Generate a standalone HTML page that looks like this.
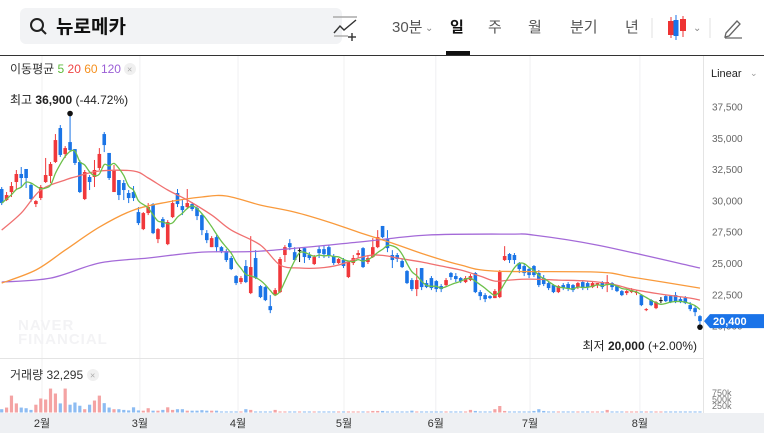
<!DOCTYPE html>
<html><head><meta charset="utf-8">
<style>
html,body{margin:0;padding:0;background:#fff;}
body{width:764px;height:433px;overflow:hidden;position:relative;font-family:"Liberation Sans","Noto Sans CJK KR",sans-serif;}
svg text{font-family:"Liberation Sans","Noto Sans CJK KR",sans-serif;}
</style></head>
<body>
<svg id="chart" width="764" height="433" viewBox="0 0 764 433" xmlns="http://www.w3.org/2000/svg">
  <g>
    <rect x="20" y="8" width="322" height="36" rx="6" fill="#f2f3f5"/>
    <g stroke="#222" stroke-width="2" fill="none">
      <circle cx="37" cy="25" r="6"/><line x1="41.5" y1="29.5" x2="46" y2="34"/>
    </g>
    <text x="56" y="33" font-size="19" font-weight="bold" fill="#111">뉴로메카</text>
    <g stroke="#333" stroke-width="1.4" fill="none">
      <line x1="333" y1="17" x2="357" y2="17" stroke="#aaa"/>
      <polyline points="334,33 340,26 344,30 356,20"/>
      <line x1="334" y1="36" x2="348" y2="36" stroke="#aaa"/>
      <line x1="352" y1="33" x2="352" y2="41"/><line x1="348" y1="37" x2="356" y2="37"/>
    </g>
    <text x="392" y="32" font-size="15" fill="#555">30분</text>
    <text x="425" y="31" font-size="10" fill="#888">⌄</text>
    <text x="450" y="32" font-size="15" font-weight="bold" fill="#111">일</text>
    <rect x="446" y="51" width="24" height="4" fill="#111"/>
    <text x="488" y="32" font-size="15" fill="#555">주</text>
    <text x="528" y="32" font-size="15" fill="#555">월</text>
    <text x="570" y="32" font-size="15" fill="#555">분기</text>
    <text x="625" y="32" font-size="15" fill="#555">년</text>
    <line x1="652" y1="18" x2="652" y2="38" stroke="#e2e2e2"/>
    <g>
      <line x1="671" y1="17" x2="671" y2="38" stroke="#e33" /><rect x="668" y="21" width="6" height="14" fill="#e33"/>
      <line x1="676" y1="15" x2="676" y2="40" stroke="#1a73e8"/><rect x="673.5" y="20" width="5" height="16" fill="#1a73e8"/>
      <line x1="683" y1="16" x2="683" y2="37" stroke="#e33"/><rect x="680" y="19" width="6" height="12" fill="#e33"/>
      <text x="693" y="31" font-size="10" fill="#888">⌄</text>
    </g>
    <line x1="710" y1="18" x2="710" y2="38" stroke="#e2e2e2"/>
    <g stroke="#666" stroke-width="1.3" fill="none">
      <path d="M726 33 L737 21 L740 24 L729 36 L725 37 Z"/><line x1="725" y1="38" x2="742" y2="38"/>
    </g>
    <line x1="0" y1="55.5" x2="764" y2="55.5" stroke="#333" stroke-width="1"/>
  </g>
  <g id="grid"></g>
  <line x1="703.5" y1="56" x2="703.5" y2="413" stroke="#e4e4e4"/>
  <line x1="0" y1="358.5" x2="703" y2="358.5" stroke="#e4e4e4"/>
  <text x="18" y="330" font-size="15" font-weight="bold" fill="#f3f3f5" letter-spacing="1">NAVER</text>
  <text x="18" y="344" font-size="15" font-weight="bold" fill="#f3f3f5" letter-spacing="1">FINANCIAL</text>
  <g id="volume"></g>
  <g id="candles"></g>
  <g id="mas"></g>
  <g id="yaxis"></g>
  <g>
    <text x="10" y="73" font-size="12" fill="#333">이동평균 <tspan fill="#5dbb3c">5</tspan> <tspan fill="#ee4545">20</tspan> <tspan fill="#f5901e">60</tspan> <tspan fill="#9b5fd6">120</tspan></text>
    <circle cx="130" cy="69" r="6" fill="#f0f0f0"/>
    <text x="127" y="72.5" font-size="9" fill="#aaa">×</text>
  </g>
  <text x="711" y="77" font-size="11" fill="#222">Linear</text>
  <text x="750" y="76" font-size="9" fill="#999">⌄</text>
  <text x="10" y="104" font-size="12" fill="#222">최고 <tspan font-weight="bold">36,900</tspan> (-44.72%)</text>
  <text x="697" y="350" font-size="12" fill="#222" text-anchor="end">최저 <tspan font-weight="bold">20,000</tspan> (+2.00%)</text>
  <g>
    <text x="10" y="379" font-size="12" fill="#333">거래량 32,295</text>
    <circle cx="93" cy="375" r="6" fill="#f0f0f0"/>
    <text x="90" y="378.5" font-size="9" fill="#aaa">×</text>
  </g>
  <rect x="0" y="413" width="764" height="20" fill="#eef0f3"/>
  <g id="xaxis"></g>
  <g id="vaxis"></g>
  <g id="ptag"></g>
</svg>
<script>
const opens=[30950,30070,30710,31510,32150,32550,31270,29750,30230,31510,31990,33110,35820,33750,34700,34140,33110,30150,31910,31910,32630,35340,33830,30710,31670,31430,30630,30710,29110,27750,29030,29750,26950,28550,26550,28710,30630,29590,29510,29750,29430,28870,27430,26310,27110,26310,25990,25440,24000,23520,24800,22640,25440,23200,23120,21600,22480,22720,25680,26630,25910,26070,26230,25680,24960,26150,26150,26310,25600,25040,25280,23920,25040,25680,26230,25120,25520,26310,28000,26950,25680,25680,25200,24400,23680,22960,24640,23440,23840,23600,23200,23280,24240,24000,23840,23520,23680,24240,22720,22480,22400,22240,22320,25280,25760,25680,25040,24800,24560,24800,24240,23840,23440,23280,22720,23280,23360,23280,23120,23520,23440,23120,23280,23520,23280,23440,23200,22800,22640,22720,22640,22480,21280,22080,21440,22080,22400,22400,22480,22160,22240,21680,21440,20800];
const highs=[31110,30710,31510,32470,32710,32550,31430,30070,31270,33430,33110,35340,36060,34380,36900,34140,33270,32470,32070,33270,34220,35500,33830,32870,31670,31670,30870,31190,29510,29110,29830,29830,27830,28710,28470,30070,30950,30070,30950,29910,29590,29030,27670,27190,27270,26390,26150,25600,24080,24000,25280,27190,26070,23280,23200,22480,23040,25520,26470,26950,26310,26230,26310,25910,25680,26390,26470,26470,25760,25440,25440,25200,25680,26070,26310,25680,27030,27670,28000,27670,26070,25840,25360,24480,23840,24640,24640,23680,24000,23680,23360,23840,24320,24240,23920,24000,24160,24320,22880,22640,22480,22960,24480,26390,25840,25840,25120,24960,24720,24880,24480,24080,23600,23360,23280,23440,23520,23360,23520,23680,23600,23600,23440,23600,24080,23520,23280,22880,22880,23040,22880,22480,21440,22160,22000,22320,22480,22480,22720,22320,22400,21920,21600,20880];
const lows=[29670,29990,30310,30870,31110,31030,29910,29510,30070,31430,31430,33030,33510,33430,33980,32870,30630,30070,30870,31110,32470,33900,31670,30710,30070,30070,29830,29990,28070,27670,28870,27350,26630,27830,26470,28630,29510,28870,29350,29190,28470,27270,26630,26310,25910,25830,25120,24480,23280,23360,23440,22560,23760,22240,22000,21040,22400,22640,25120,26070,25280,25120,25040,25280,24880,25440,25440,25440,24880,24960,24640,23840,24880,25440,24640,24960,25440,26230,27030,25910,24640,25120,24640,23360,22800,22400,22880,23040,22880,22720,22720,23120,23680,23520,23440,23440,23600,22640,22080,21920,22160,22240,22240,25200,25040,24960,24240,24000,23840,23920,23120,23200,22880,22640,22640,22880,22800,22720,22960,22880,22880,23040,23040,22960,22720,22880,22720,22400,22480,22640,22480,21600,21200,21600,21360,21840,21920,21840,21840,21840,21760,21200,20800,20000];
const closes=[29830,30470,31190,32150,31830,31830,30150,29990,31110,32070,32950,34860,33670,34220,34060,33030,30710,32310,31510,32470,33750,34460,31830,32470,30470,30870,30230,30230,28230,29030,29510,27430,27750,27910,28310,29830,29750,29270,29830,29350,28790,27670,26870,27030,26310,25990,25280,24560,23440,23840,23520,24720,23840,22320,22080,21280,22880,25360,26310,26310,25280,26070,25520,25440,25520,25830,25750,25680,25040,25360,24800,25120,25440,25840,24720,25440,26310,27110,27110,26230,25280,25360,24720,23440,22960,23680,23120,23120,23040,22960,22960,23680,23920,23760,23600,23840,24000,22720,22400,22160,22240,22800,24320,25600,25280,25280,24560,24240,24080,24080,23280,23360,23040,22720,23200,23040,23040,22880,23440,23040,23120,23440,23440,23120,23520,23120,22800,22480,22800,22880,22720,21680,21360,21680,21920,22080,22000,21920,21920,21920,21840,21360,21120,20400];
const volumes=[127,190,650,350,190,165,100,300,540,500,920,730,350,920,300,385,260,127,300,460,650,360,190,127,127,100,80,200,80,70,165,70,70,100,200,100,127,127,70,70,70,90,70,70,70,40,40,40,40,40,127,100,40,40,40,40,100,40,40,40,40,40,40,40,40,40,40,40,40,40,40,40,40,40,40,40,60,60,60,40,40,40,40,40,70,40,40,40,40,40,40,40,40,40,40,40,100,60,40,40,40,127,250,60,40,40,40,40,40,60,127,60,40,40,40,40,40,40,40,40,40,40,40,40,100,40,40,40,40,40,40,40,40,40,40,40,40,40,40,40,40,40,40,40];
const ma20Idx=[0,4,8,13,15,20,27,30,34,38,43,47,53,57,61,65,69,73,76,79,81,86,90,94,98,101,104,108,114,120,125,129,135,141,143];
const ma20Val=[27670,29030,30870,31670,31910,32390,32390,31830,30870,30070,28870,27670,26470,24880,24640,24640,24880,25440,25680,25600,25440,25120,24800,24480,24000,23600,23680,23760,23680,23600,23360,22960,22560,22240,22080];
const ma60Idx=[0,7,13,20,27,34,41,46,53,60,67,73,80,87,94,101,122,129,143];
const ma60Val=[23440,24480,26070,27910,29270,29910,30310,30390,29670,29110,28310,27510,26630,25680,24880,24400,24320,23920,23040];
const ma120Idx=[0,10,20,30,41,53,73,87,104,109,122,143];
const ma120Val=[23520,23840,25040,25440,25910,25990,26710,27270,27350,27270,26470,24640];
const priceTicks=[37500,35000,32500,30000,27500,25000,22500,20000];
const priceTickLabels=["37,500","35,000","32,500","30,000","27,500","25,000","22,500","20,000"];
const monthPos=[8.25,28.3,48.4,70.1,88.9,108.2,130.7];
const monthLabels=["2월","3월","4월","5월","6월","7월","8월"];
const volTicks=[750,500,250];
const volTickLabels=["750k","500k","250k"];
const currentPrice=20400;
const currentPriceLabel="20,400";

const NS="http://www.w3.org/2000/svg";
function yP(p){return 107+(37500-p)*0.012523;}
function xI(i){return 1.7+i*4.883;}
function yV(v){return 412.5-v*0.026;}
function mk(tag,attrs,parent){const e=document.createElementNS(NS,tag);for(const k in attrs)e.setAttribute(k,attrs[k]);parent.appendChild(e);return e;}
const RED="#f0383b",BLUE="#1a74e6";

const grid=document.getElementById('grid');
monthPos.forEach((m,k)=>{
  const l=mk('line',{x1:xI(m),x2:xI(m),y1:56,y2:413,stroke:'#f0f0f2'},grid);
  
  
});
const xaxis=document.getElementById('xaxis');
monthLabels.forEach((t,k)=>{
  const e=mk('text',{x:xI(monthPos[k]),y:427,'font-size':11,fill:'#333','text-anchor':'middle'},xaxis);
  e.textContent=t;
  
  
});
const yaxis=document.getElementById('yaxis');
priceTicks.forEach((p,k)=>{
  const e=mk('text',{x:712,y:yP(p)+3.5,'font-size':10,fill:'#666'},yaxis);
  e.textContent=priceTickLabels[k];
  
  
});
const vaxis=document.getElementById('vaxis');
volTicks.forEach((v,k)=>{
  const e=mk('text',{x:712,y:yV(v)+3,'font-size':9,fill:'#777'},vaxis);
  e.textContent=volTickLabels[k];
  
  
});
const vol=document.getElementById('volume');
volumes.forEach((v,i)=>{
  const up=closes[i]>=opens[i];
  const r=mk('rect',{x:xI(i)-1.6,y:yV(v),width:3.2,height:412.5-yV(v),fill:up?'#f4a3a3':'#8dbcf2'},vol);
  
  
});
const cg=document.getElementById('candles');
closes.forEach((c,i)=>{
  const o=opens[i],up=c>o,doji=c===o;
  const col=doji?'#111':(up?RED:BLUE);
  const g=mk('g',{},cg);
  
  
  const x=xI(i);
  mk('line',{x1:x,x2:x,y1:yP(highs[i]),y2:yP(lows[i]),stroke:col,'stroke-width':1},g);
  const top=yP(Math.max(o,c)),bot=yP(Math.min(o,c));
  mk('rect',{x:x-1.8,y:top,width:3.6,height:Math.max(1,bot-top),fill:col},g);
});
const mg=document.getElementById('mas');
function drawLine(idx,val,color,name){
  const P=idx.map((ix,k)=>[xI(ix),yP(val[k])]);
  let d='M'+P[0][0].toFixed(1)+','+P[0][1].toFixed(1);
  for(let k=0;k<P.length-1;k++){
    const p0=P[Math.max(0,k-1)],p1=P[k],p2=P[k+1],p3=P[Math.min(P.length-1,k+2)];
    const c1=[p1[0]+(p2[0]-p0[0])/6,p1[1]+(p2[1]-p0[1])/6];
    const c2=[p2[0]-(p3[0]-p1[0])/6,p2[1]-(p3[1]-p1[1])/6];
    d+=' C'+c1[0].toFixed(1)+','+c1[1].toFixed(1)+' '+c2[0].toFixed(1)+','+c2[1].toFixed(1)+' '+p2[0].toFixed(1)+','+p2[1].toFixed(1);
  }
  const pl=mk('path',{d:d,fill:'none',stroke:color,'stroke-width':1.3,'stroke-linejoin':'round'},mg);
  
  
}
drawLine(ma120Idx,ma120Val,'#a46ad8','ma120-line');
drawLine(ma60Idx,ma60Val,'#f99a3c','ma60-line');
drawLine(ma20Idx,ma20Val,'#f07070','ma20-line');
const ma5Idx=[],ma5Val=[];
closes.forEach((c,i)=>{const s=closes.slice(Math.max(0,i-4),i+1);ma5Idx.push(i);ma5Val.push(s.reduce((a,b)=>a+b,0)/s.length);});
drawLine(ma5Idx,ma5Val,'#6cc04a','ma5-line');

let hi=0,lo=0;highs.forEach((h,i)=>{if(h>highs[hi])hi=i;});lows.forEach((l,i)=>{if(l<lows[lo])lo=i;});
const hm=mk('circle',{cx:xI(hi),cy:yP(highs[hi])-1,r:2.8,fill:'#111'},mg);


const lm=mk('circle',{cx:xI(lo),cy:yP(lows[lo])+1,r:2.8,fill:'#111'},mg);



const pt=document.getElementById('ptag');const cy=yP(currentPrice);
const poly=mk('polygon',{points:`704,${cy} 710,${cy-7} 764,${cy-7} 764,${cy+7} 710,${cy+7}`,fill:'#1a73e8'},pt);


const tt=mk('text',{x:713,y:cy+4,'font-size':11,'font-weight':'bold',fill:'#fff'},pt);
tt.textContent=currentPriceLabel;


</script>
</body></html>
